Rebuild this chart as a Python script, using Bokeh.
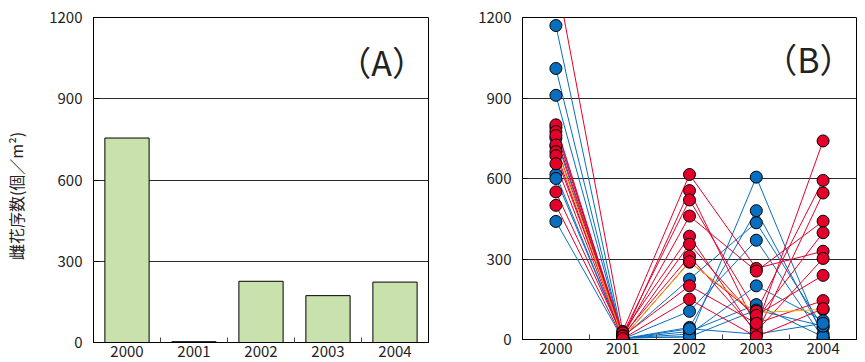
from bokeh.plotting import figure
from bokeh.layouts import row
from bokeh.models import Range1d, FixedTicker, Label, ColumnDataSource
from bokeh.embed import file_html
from bokeh.resources import INLINE

# ---------------- data ----------------
years = ["2000", "2001", "2002", "2003", "2004"]
y_ticks = [0, 300, 600, 900, 1200]
y_label = "雌花序数(個／m²)"

# panel (A): mean density
mean_density = [755, 3, 226, 173, 223]

# panel (B): individual plots, one entry per plot in each year list
blue_2000 = [1170, 1010, 910, 790, 750, 615, 600, 440]
blue_2001 = [5, 3, 8, 2, 5, 4, 6, 2]
blue_2002 = [10, 45, 225, 105, 20, 30, 10, 40]
blue_2003 = [605, 480, 435, 370, 200, 130, 110, 20]
blue_2004 = [5, 20, 45, 5, 70, 10, 50, 60]

red_2000 = [1360, 800, 775, 760, 725, 700, 685, 655, 550, 500]
red_2001 = [30, 5, 20, 10, 25, 8, 15, 5, 12, 3]
red_2002 = [615, 555, 520, 460, 385, 355, 310, 290, 200, 150]
red_2003 = [265, 46, 105, 255, 19, 75, 30, 90, 60, 10]
red_2004 = [329, 740, 593, 441, 546, 398, 302, 239, 145, 115]

orange_plot = [720, 5, 288, 100, 112]

# ---------------- style ----------------
FONT = "Noto Sans CJK JP"
BLUE = "#0A6EBE"
RED = "#E3002B"
ORANGE = "#F4A900"
BAR = "#C9E2AD"
GRID = "#2a2a2a"

xpos = [i + 0.5 for i in range(len(years))]
bounds = [i for i in range(1, len(years))]


def style(p):
    p.outline_line_color = "black"
    p.outline_line_width = 1
    p.xgrid.visible = False
    p.ygrid.ticker = FixedTicker(ticks=y_ticks)
    p.ygrid.grid_line_color = GRID
    p.ygrid.grid_line_width = 1
    xa = p.xaxis[0]
    xa.ticker = FixedTicker(ticks=xpos, minor_ticks=bounds)
    xa.major_label_overrides = {x: y for x, y in zip(xpos, years)}
    xa.major_tick_in = 0
    xa.major_tick_out = 0
    xa.minor_tick_in = 5
    xa.minor_tick_out = 0
    xa.minor_tick_line_color = "#444"
    xa.axis_line_color = "black"
    xa.major_label_text_font = FONT
    xa.major_label_text_font_size = "15px"
    xa.major_label_text_color = "#222"
    xa.major_label_standoff = 3
    ya = p.yaxis[0]
    ya.ticker = FixedTicker(ticks=y_ticks)
    ya.major_tick_in = 5
    ya.major_tick_out = 0
    ya.minor_tick_line_color = None
    ya.axis_line_color = "black"
    ya.major_label_text_font = FONT
    ya.major_label_text_font_size = "15px"
    ya.major_label_text_color = "#222"
    ya.major_label_standoff = 11


# ---------------- panel A ----------------
pA = figure(frame_width=335, frame_height=325, output_backend="svg", toolbar_location=None,
            x_range=Range1d(0, 5), y_range=Range1d(0, 1200),
            min_border_left=93, min_border_right=12, min_border_top=17, min_border_bottom=18)
style(pA)
pA.yaxis[0].axis_label = y_label + "\u3000\u3000"
pA.yaxis[0].axis_label_text_font = FONT
pA.yaxis[0].axis_label_text_font_size = "16px"
pA.yaxis[0].axis_label_text_font_style = "normal"
pA.yaxis[0].axis_label_text_color = "#222"
pA.yaxis[0].axis_label_standoff = 18
pA.vbar(x=xpos, top=mean_density, width=0.66, fill_color=BAR, line_color="black", line_width=1)
pA.add_layout(Label(x=4.3, y=1037, text="（A）", text_font=FONT, text_font_size="34px",
                    text_align="center", text_baseline="middle", text_color="#222"))

# ---------------- panel B ----------------
pB = figure(frame_width=334, frame_height=322, output_backend="svg", toolbar_location=None,
            x_range=Range1d(0, 5), y_range=Range1d(0, 1200),
            min_border_left=82, min_border_right=8, min_border_top=17, min_border_bottom=21)
style(pB)

blue_rows = list(zip(blue_2000, blue_2001, blue_2002, blue_2003, blue_2004))
red_rows = list(zip(red_2000, red_2001, red_2002, red_2003, red_2004))

blue_src = ColumnDataSource(dict(xs=[xpos] * len(blue_rows), ys=[list(r) for r in blue_rows]))
red_src = ColumnDataSource(dict(xs=[xpos] * len(red_rows), ys=[list(r) for r in red_rows]))
pB.multi_line(xs="xs", ys="ys", source=blue_src, line_color=BLUE, line_width=1)
pB.multi_line(xs="xs", ys="ys", source=red_src, line_color=RED, line_width=1)
pB.line(xpos, orange_plot, line_color=ORANGE, line_width=1)

bx = [x for r in blue_rows for x in xpos]
by = [v for r in blue_rows for v in r]
rx = [x for r in red_rows for x in xpos]
ry = [v for r in red_rows for v in r]
pB.scatter(xpos, orange_plot, size=12, fill_color=ORANGE, line_color="black", line_width=1)
pB.scatter(bx, by, size=12, fill_color=BLUE, line_color="black", line_width=1)
pB.scatter(rx, ry, size=12, fill_color=RED, line_color="black", line_width=1)

pB.add_layout(Label(x=4.28, y=1047, text="（B）", text_font=FONT, text_font_size="34px",
                    text_align="center", text_baseline="middle", text_color="#222"))

layout = row(pA, pB)
open("out.html", "w").write(file_html(layout, INLINE))
